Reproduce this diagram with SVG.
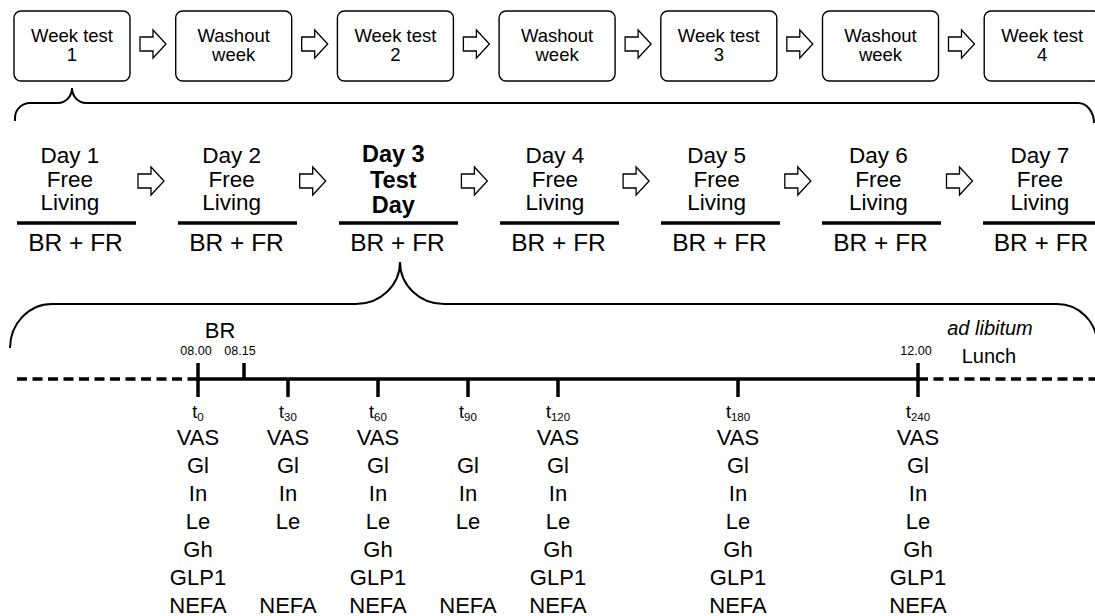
<svg xmlns="http://www.w3.org/2000/svg" width="1095" height="616" viewBox="0 0 1095 616">
  <style>
    text { font-family: "Liberation Sans", Arial, sans-serif; fill: #000; text-anchor: middle; }
    .box { fill: #fff; stroke: #000; stroke-width: 1.4; }
    .wk { font-size: 18.5px; }
    .day { font-size: 22.5px; }
    .dayb { font-size: 23.5px; font-weight: bold; }
    .meal { font-size: 24.5px; }
    .bar { stroke: #000; stroke-width: 3.5; }
    .arrow { fill: #fff; stroke: #000; stroke-width: 1.3; stroke-linejoin: miter; }
    .brace { fill: none; stroke: #000; stroke-width: 2; }
    .axis { stroke: #000; stroke-width: 3.5; fill: none; }
    .dash { stroke-dasharray: 10 5.5; }
    .tick { stroke: #000; stroke-width: 3.5; }
    .clock { font-size: 12.5px; }
    .lbl { font-size: 20px; }
    .m { font-size: 22px; }
    .tl { font-size: 18px; }
    .sub { font-size: 11.5px; }
  </style>
  <defs>
    <polygon id="arr" class="arrow" points="0,-7 13,-7 13,-14 26,0 13,14 13,7 0,7"/>
  </defs>

  <!-- week sequence -->
  <g id="week-test-1"><rect class="box" x="14" y="11" width="116" height="70" rx="7"/><text class="wk" x="72" y="42">Week test</text><text class="wk" x="72" y="61">1</text></g>
  <g id="washout-1"><rect class="box" x="175.7" y="11" width="116" height="70" rx="7"/><text class="wk" x="233.7" y="42">Washout</text><text class="wk" x="233.7" y="61">week</text></g>
  <g id="week-test-2"><rect class="box" x="337.4" y="11" width="116" height="70" rx="7"/><text class="wk" x="395.4" y="42">Week test</text><text class="wk" x="395.4" y="61">2</text></g>
  <g id="washout-2"><rect class="box" x="499.1" y="11" width="116" height="70" rx="7"/><text class="wk" x="557.1" y="42">Washout</text><text class="wk" x="557.1" y="61">week</text></g>
  <g id="week-test-3"><rect class="box" x="660.8" y="11" width="116" height="70" rx="7"/><text class="wk" x="718.8" y="42">Week test</text><text class="wk" x="718.8" y="61">3</text></g>
  <g id="washout-3"><rect class="box" x="822.5" y="11" width="116" height="70" rx="7"/><text class="wk" x="880.5" y="42">Washout</text><text class="wk" x="880.5" y="61">week</text></g>
  <g id="week-test-4"><rect class="box" x="984.2" y="11" width="116" height="70" rx="7"/><text class="wk" x="1042.2" y="42">Week test</text><text class="wk" x="1042.2" y="61">4</text></g>

  <!-- day sequence -->
  <g id="day-1"><text class="day" x="70" y="163">Day 1</text><text class="day" x="70" y="187">Free</text><text class="day" x="70" y="210">Living</text><line class="bar" x1="17" y1="223" x2="136" y2="223"/><text class="meal" x="75.5" y="251">BR + FR</text></g>
  <g id="day-2"><text class="day" x="231.7" y="163">Day 2</text><text class="day" x="231.7" y="187">Free</text><text class="day" x="231.7" y="210">Living</text><line class="bar" x1="178" y1="223" x2="297" y2="223"/><text class="meal" x="236.5" y="251">BR + FR</text></g>
  <g id="day-3"><text class="dayb" x="393.3" y="162">Day 3</text><text class="dayb" x="393.3" y="187.5">Test</text><text class="dayb" x="393.3" y="212.5">Day</text><line class="bar" x1="339" y1="223" x2="458" y2="223"/><text class="meal" x="397.5" y="251">BR + FR</text></g>
  <g id="day-4"><text class="day" x="555" y="163">Day 4</text><text class="day" x="555" y="187">Free</text><text class="day" x="555" y="210">Living</text><line class="bar" x1="500" y1="223" x2="619" y2="223"/><text class="meal" x="558.5" y="251">BR + FR</text></g>
  <g id="day-5"><text class="day" x="716.7" y="163">Day 5</text><text class="day" x="716.7" y="187">Free</text><text class="day" x="716.7" y="210">Living</text><line class="bar" x1="661" y1="223" x2="780" y2="223"/><text class="meal" x="719.5" y="251">BR + FR</text></g>
  <g id="day-6"><text class="day" x="878.3" y="163">Day 6</text><text class="day" x="878.3" y="187">Free</text><text class="day" x="878.3" y="210">Living</text><line class="bar" x1="822" y1="223" x2="941" y2="223"/><text class="meal" x="880.5" y="251">BR + FR</text></g>
  <g id="day-7"><text class="day" x="1040" y="163">Day 7</text><text class="day" x="1040" y="187">Free</text><text class="day" x="1040" y="210">Living</text><line class="bar" x1="983" y1="223" x2="1102" y2="223"/><text class="meal" x="1041" y="251">BR + FR</text></g>

  <!-- test-day timeline -->
  <g id="timeline">
    <line class="axis dash" x1="17" y1="379" x2="198" y2="379"/>
    <line class="axis" x1="198" y1="379" x2="918" y2="379"/>
    <line class="axis dash" x1="918" y1="379" x2="1095" y2="379"/>
    <line class="tick" x1="198" y1="363" x2="198" y2="397"/>
    <line class="tick" x1="244" y1="363" x2="244" y2="379"/>
    <line class="tick" x1="288" y1="379" x2="288" y2="397"/>
    <line class="tick" x1="378" y1="379" x2="378" y2="397"/>
    <line class="tick" x1="468" y1="379" x2="468" y2="397"/>
    <line class="tick" x1="558" y1="379" x2="558" y2="397"/>
    <line class="tick" x1="738" y1="379" x2="738" y2="397"/>
    <line class="tick" x1="918" y1="363" x2="918" y2="397"/>
    <text class="lbl" x="220" y="338" style="font-size:22px">BR</text>
    <text class="clock" x="196" y="355">08.00</text>
    <text class="clock" x="240" y="355">08.15</text>
    <text class="clock" x="916" y="355">12.00</text>
    <text class="lbl" x="990" y="335" font-style="italic">ad libitum</text>
    <text class="lbl" x="989" y="363">Lunch</text>
  </g>

  <!-- sampling columns -->
  <g id="t0"><text class="tl" x="198" y="418">t<tspan class="sub" dy="3">0</tspan></text><text class="m" x="198" y="445">VAS</text><text class="m" x="198" y="473">Gl</text><text class="m" x="198" y="501">In</text><text class="m" x="198" y="529">Le</text><text class="m" x="198" y="557">Gh</text><text class="m" x="198" y="585">GLP1</text><text class="m" x="198" y="613">NEFA</text></g>
  <g id="t30"><text class="tl" x="288" y="418">t<tspan class="sub" dy="3">30</tspan></text><text class="m" x="288" y="445">VAS</text><text class="m" x="288" y="473">Gl</text><text class="m" x="288" y="501">In</text><text class="m" x="288" y="529">Le</text><text class="m" x="288" y="613">NEFA</text></g>
  <g id="t60"><text class="tl" x="378" y="418">t<tspan class="sub" dy="3">60</tspan></text><text class="m" x="378" y="445">VAS</text><text class="m" x="378" y="473">Gl</text><text class="m" x="378" y="501">In</text><text class="m" x="378" y="529">Le</text><text class="m" x="378" y="557">Gh</text><text class="m" x="378" y="585">GLP1</text><text class="m" x="378" y="613">NEFA</text></g>
  <g id="t90"><text class="tl" x="468" y="418">t<tspan class="sub" dy="3">90</tspan></text><text class="m" x="468" y="473">Gl</text><text class="m" x="468" y="501">In</text><text class="m" x="468" y="529">Le</text><text class="m" x="468" y="613">NEFA</text></g>
  <g id="t120"><text class="tl" x="558" y="418">t<tspan class="sub" dy="3">120</tspan></text><text class="m" x="558" y="445">VAS</text><text class="m" x="558" y="473">Gl</text><text class="m" x="558" y="501">In</text><text class="m" x="558" y="529">Le</text><text class="m" x="558" y="557">Gh</text><text class="m" x="558" y="585">GLP1</text><text class="m" x="558" y="613">NEFA</text></g>
  <g id="t180"><text class="tl" x="738" y="418">t<tspan class="sub" dy="3">180</tspan></text><text class="m" x="738" y="445">VAS</text><text class="m" x="738" y="473">Gl</text><text class="m" x="738" y="501">In</text><text class="m" x="738" y="529">Le</text><text class="m" x="738" y="557">Gh</text><text class="m" x="738" y="585">GLP1</text><text class="m" x="738" y="613">NEFA</text></g>
  <g id="t240"><text class="tl" x="918" y="418">t<tspan class="sub" dy="3">240</tspan></text><text class="m" x="918" y="445">VAS</text><text class="m" x="918" y="473">Gl</text><text class="m" x="918" y="501">In</text><text class="m" x="918" y="529">Le</text><text class="m" x="918" y="557">Gh</text><text class="m" x="918" y="585">GLP1</text><text class="m" x="918" y="613">NEFA</text></g>

  <!-- connectors: block arrows and expansion braces -->
  <g id="connectors">
    <use href="#arr" x="140" y="44"/>
    <use href="#arr" x="301.7" y="44"/>
    <use href="#arr" x="463.4" y="44"/>
    <use href="#arr" x="625.1" y="44"/>
    <use href="#arr" x="786.8" y="44"/>
    <use href="#arr" x="948.5" y="44"/>
    <use href="#arr" x="138" y="181"/>
    <use href="#arr" x="299.7" y="181"/>
    <use href="#arr" x="461.4" y="181"/>
    <use href="#arr" x="623.1" y="181"/>
    <use href="#arr" x="784.8" y="181"/>
    <use href="#arr" x="946.5" y="181"/>
    <path class="brace" d="M15,121 L15,118 A15,15 0 0 1 30,103 L58,103 A14,15 0 0 0 72,88 A14,15 0 0 0 86,103 L1078,103 A16,20 0 0 1 1094,123"/>
    <path class="brace" d="M10,348 A42,44 0 0 1 52,304 L356,304 A44,42 0 0 0 400,262 A44,42 0 0 0 444,304 L1057,304 A40,40 0 0 1 1097,344"/>
  </g>
</svg>
